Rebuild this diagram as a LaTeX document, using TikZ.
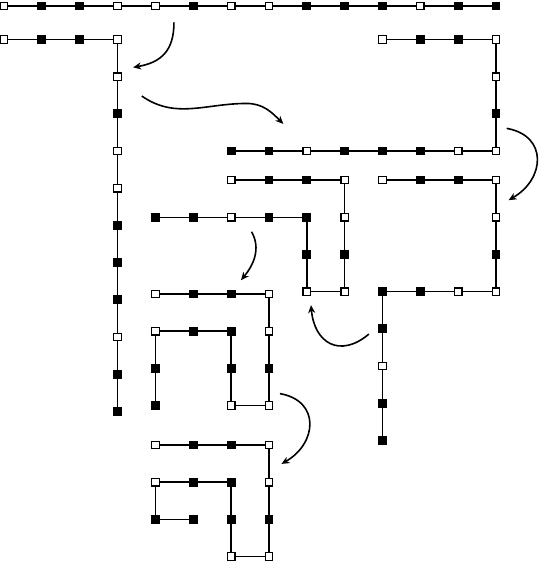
\documentclass[tikz,border=0pt]{standalone}
\usepackage{tikz}
\usetikzlibrary{arrows.meta}
\colorlet{h}{black}
\colorlet{p}{white}
\tikzstyle{site} = [rectangle, draw=black, line width=1.3pt, minimum size=7.5pt, inner sep=0pt]
\tikzstyle{bond} = [line width=1.4pt]
\tikzstyle{arrow} = [line width=1.6pt,-{Stealth[length=8pt,width=7pt,inset=2.5pt]}]

\begin{document}
\begin{tikzpicture}[x=37.85pt, y=-37.2pt]
\useasboundingbox (-0.106,-0.161) rectangle (14.161,15.0);

% Nodes
% straight chain
\foreach \x/\f [count=\i] in {0/p,1/h,2/h,3/p,4/p,5/h,6/p,7/p,8/h,9/h,10/h,11/p,12/h,13/h}
  \node (a\i) [site, fill=\f] at (\x,0) {};

% first bend
\begin{scope}[shift={(0,0.9)}]
\foreach \x/\y/\f [count=\i] in {0/0/p,1/0/h,2/0/h,3/0/p,3/1/p,3/2/h,3/3/p,3/4/p,3/5/h,3/6/h,3/7/h,3/8/p,3/9/h,3/10/h}
  \node (b\i) [site, fill=\f] at (\x,\y) {};
\end{scope}

% second bend
\begin{scope}[shift={(10,0.9)}]
\foreach \x/\y/\f [count=\i] in {0/0/p,1/0/h,2/0/h,3/0/p,3/1/p,3/2/h,3/3/p,2/3/p,1/3/h,0/3/h,-1/3/h,-2/3/p,-3/3/h,-4/3/h}
  \node (c\i) [site, fill=\f] at (\x,\y) {};
\end{scope}

% hairpin
\begin{scope}[shift={(6,4.68)}]
\foreach \x/\y/\f [count=\i] in {0/0/p,1/0/h,2/0/h,3/0/p,3/1/p,3/2/h,3/3/p,2/3/p,2/2/h,2/1/h,1/1/h,0/1/p,-1/1/h,-2/1/h}
  \node (d\i) [site, fill=\f] at (\x,\y) {};
\end{scope}

% box with tail
\begin{scope}[shift={(10,4.68)}]
\foreach \x/\y/\f [count=\i] in {0/0/p,1/0/h,2/0/h,3/0/p,3/1/p,3/2/h,3/3/p,2/3/p,1/3/h,0/3/h,0/4/h,0/5/p,0/6/h,0/7/h}
  \node (e\i) [site, fill=\f] at (\x,\y) {};
\end{scope}

% double hairpin
\begin{scope}[shift={(4,7.74)}]
\foreach \x/\y/\f [count=\i] in {0/0/p,1/0/h,2/0/h,3/0/p,3/1/p,3/2/h,3/3/p,2/3/p,2/2/h,2/1/h,1/1/h,0/1/p,0/2/h,0/3/h}
  \node (f\i) [site, fill=\f] at (\x,\y) {};
\end{scope}

% compact fold
\begin{scope}[shift={(4,11.8)}]
\foreach \x/\y/\f [count=\i] in {0/0/p,1/0/h,2/0/h,3/0/p,3/1/p,3/2/h,3/3/p,2/3/p,2/2/h,2/1/h,1/1/h,0/1/p,0/2/h,1/2/h}
  \node (g\i) [site, fill=\f] at (\x,\y) {};
\end{scope}

% Bonds
\foreach \k in {a,b,c,d,e,f,g}
  \foreach \i [remember=\i as \j (initially 1)] in {2,...,14}
    \draw [bond] (\k\j) -- (\k\i);

% Arrows
\coordinate (s1) at (4.49,0.44);
\coordinate (t1) at (3.41,1.65);
\coordinate (s2) at (3.64,2.42);
\coordinate (m2) at (6.41,2.62);
\coordinate (t2) at (7.38,3.17);
\coordinate (s3) at (13.28,3.29);
\coordinate (t3) at (13.33,5.22);
\coordinate (s4) at (6.54,6.07);
\coordinate (t4) at (6.26,7.37);
\coordinate (s5) at (9.64,8.82);
\coordinate (t5) at (8.11,8.04);
\coordinate (s6) at (7.29,10.42);
\coordinate (t6) at (7.33,12.31);

\draw [arrow] (s1) to[out=-90, in=10, looseness=1.2] (t1);
\draw [arrow] (s2) to[out=-35, in=180] (m2) to[out=0, in=135] (t2);
\draw [arrow] (s3) to[out=-10, in=30, looseness=1.5] (t3);
\draw [arrow] (s4) to[out=-60, in=50] (t4);
\draw [arrow] (s5) to[out=220, in=-85, looseness=1.5] (t5);
\draw [arrow] (s6) to[out=-10, in=30, looseness=1.5] (t6);

\end{tikzpicture}
\end{document}
